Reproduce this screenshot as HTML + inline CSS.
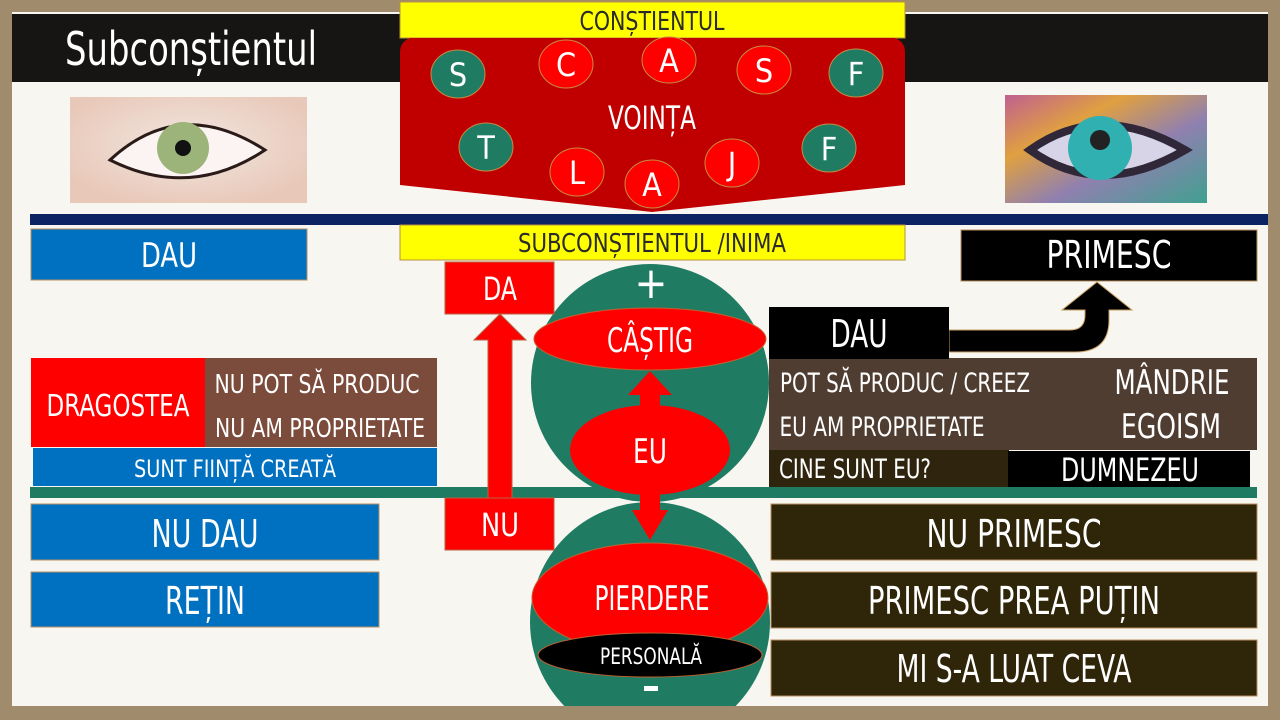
<!DOCTYPE html>
<html><head><meta charset="utf-8"><style>
html,body{margin:0;padding:0;background:#a08c6c;}
svg{display:block}
text{font-family:"Liberation Sans Narrow","DejaVu Sans Condensed","Liberation Sans",sans-serif;fill:#fff;text-anchor:middle;}
</style></head><body>
<svg width="1280" height="720" viewBox="0 0 1280 720" xmlns="http://www.w3.org/2000/svg">
<defs>
<radialGradient id="eye1" cx="0.5" cy="0.45" r="0.6"><stop offset="0" stop-color="#f2e6e0"/><stop offset="1" stop-color="#e8c8b8"/></radialGradient>
<linearGradient id="eye2" x1="0" y1="0" x2="1" y2="1"><stop offset="0" stop-color="#c06090"/><stop offset="0.3" stop-color="#e0a040"/><stop offset="0.6" stop-color="#9080b0"/><stop offset="1" stop-color="#40a090"/></linearGradient>
</defs>
<rect x="0" y="0" width="1280" height="720" fill="#a08c6c"/>
<rect x="12" y="12" width="1256" height="694" fill="#f8f6f1"/>
<rect x="12" y="14" width="1256" height="68" fill="#171513"/>
<text x="65" y="65" font-size="46" style="text-anchor:start" textLength="252" lengthAdjust="spacingAndGlyphs">Subconștientul</text>

<!-- eye images -->
<rect x="70" y="97" width="237" height="106" fill="url(#eye1)"/>
<path d="M110,160 Q180,95 265,150 Q190,200 110,160Z" fill="#fbf4f2" stroke="#2a1a18" stroke-width="3"/>
<circle cx="183" cy="148" r="26" fill="#9cb47a"/><circle cx="183" cy="148" r="8" fill="#111"/>
<rect x="1005" y="95" width="202" height="108" fill="url(#eye2)"/>
<path d="M1030,150 Q1100,100 1185,150 Q1100,200 1030,150Z" fill="#d8d4e8" stroke="#302838" stroke-width="8"/>
<circle cx="1100" cy="148" r="32" fill="#30b0b0"/><circle cx="1100" cy="140" r="10" fill="#222"/>

<rect x="30" y="214" width="1238" height="11" fill="#0b2263"/>

<!-- conștientul -->
<rect x="400" y="2" width="505" height="36" fill="#ffff00" stroke="#b89040" stroke-width="1"/>
<text x="652" y="30" font-size="26" fill="#222" style="fill:#2a2a2a" textLength="145" lengthAdjust="spacingAndGlyphs">CONȘTIENTUL</text>
<path d="M410,38 L895,38 Q905,42 905,52 L905,185 L652,212 L400,185 L400,52 Q400,42 410,38Z" fill="#c00000"/>
<g stroke="#c88a40" stroke-width="1">
<ellipse cx="458" cy="74" rx="27" ry="24" fill="#1f7c63"/>
<ellipse cx="566" cy="64" rx="27" ry="24" fill="#ff0000"/>
<ellipse cx="669" cy="60" rx="27" ry="23" fill="#ff0000"/>
<ellipse cx="764" cy="70" rx="27" ry="24" fill="#ff0000"/>
<ellipse cx="856" cy="73" rx="27" ry="24" fill="#1f7c63"/>
<ellipse cx="486" cy="147" rx="27" ry="24" fill="#1f7c63"/>
<ellipse cx="829" cy="148" rx="27" ry="24" fill="#1f7c63"/>
<ellipse cx="577" cy="172" rx="27" ry="24" fill="#ff0000"/>
<ellipse cx="652" cy="184" rx="27" ry="24" fill="#ff0000"/>
<ellipse cx="732" cy="163" rx="27" ry="24" fill="#ff0000"/>
</g>
<g font-size="32">
<text x="458" y="86">S</text><text x="566" y="76">C</text><text x="669" y="72">A</text><text x="764" y="82">S</text><text x="856" y="85">F</text>
<text x="486" y="159">T</text><text x="829" y="160">F</text><text x="577" y="184">L</text><text x="652" y="196">A</text><text x="732" y="175">J</text>
</g>
<text x="652" y="129" font-size="32" textLength="88" lengthAdjust="spacingAndGlyphs">VOINȚA</text>

<rect x="400" y="225" width="505" height="35" fill="#ffff00" stroke="#b89040" stroke-width="1"/>
<text x="652" y="252" font-size="26" style="fill:#2a2a2a" textLength="268" lengthAdjust="spacingAndGlyphs">SUBCONȘTIENTUL /INIMA</text>

<!-- left boxes -->
<g stroke="#b89060" stroke-width="1">
<rect x="31" y="229" width="276" height="51" fill="#0070c0"/>
<rect x="31" y="358" width="174" height="89" fill="#ff0000" stroke="none"/>
<rect x="205" y="358" width="232" height="89" fill="#7b4b3b" stroke="none"/>
<rect x="33" y="448" width="404" height="38" fill="#0070c0" stroke="none"/>
<rect x="31" y="504" width="348" height="56" fill="#0070c0"/>
<rect x="31" y="572" width="348" height="55" fill="#0070c0"/>
</g>
<text x="169" y="267" font-size="34" textLength="56" lengthAdjust="spacingAndGlyphs">DAU</text>
<text x="118" y="416" font-size="30" textLength="143" lengthAdjust="spacingAndGlyphs">DRAGOSTEA</text>
<text x="317" y="393" font-size="26" textLength="205" lengthAdjust="spacingAndGlyphs">NU POT SĂ PRODUC</text>
<text x="320" y="437" font-size="26" textLength="210" lengthAdjust="spacingAndGlyphs">NU AM PROPRIETATE</text>
<text x="235" y="477" font-size="24" textLength="202" lengthAdjust="spacingAndGlyphs">SUNT FIINȚĂ CREATĂ</text>
<text x="205" y="547" font-size="38" textLength="107" lengthAdjust="spacingAndGlyphs">NU DAU</text>
<text x="205" y="614" font-size="38" textLength="80" lengthAdjust="spacingAndGlyphs">REȚIN</text>

<!-- right boxes -->
<rect x="961" y="230" width="296" height="51" fill="#000" stroke="#b89060"/>
<text x="1109" y="268" font-size="38" textLength="125" lengthAdjust="spacingAndGlyphs">PRIMESC</text>
<path d="M949,330 L1070,330 Q1085,330 1085,315 L1085,310 L1062,310 L1097,282 L1132,310 L1109,310 L1109,320 Q1109,352 1075,352 L949,352Z" fill="#000" stroke="#c8a060" stroke-width="1"/>
<rect x="769" y="358" width="488" height="92" fill="#4f3d31"/>
<rect x="769" y="450" width="240" height="37" fill="#2f250f"/>
<rect x="1008" y="451" width="242" height="36" fill="#000"/>
<rect x="769" y="307" width="180" height="52" fill="#000"/>
<text x="859" y="347" font-size="38" textLength="57" lengthAdjust="spacingAndGlyphs">DAU</text>
<text x="905" y="392" font-size="27" textLength="250" lengthAdjust="spacingAndGlyphs">POT SĂ PRODUC / CREEZ</text>
<text x="882" y="436" font-size="27" textLength="205" lengthAdjust="spacingAndGlyphs">EU AM PROPRIETATE</text>
<text x="1172" y="394" font-size="34" textLength="115" lengthAdjust="spacingAndGlyphs">MÂNDRIE</text>
<text x="1171" y="438" font-size="34" textLength="100" lengthAdjust="spacingAndGlyphs">EGOISM</text>
<text x="855" y="478" font-size="27" textLength="152" lengthAdjust="spacingAndGlyphs">CINE SUNT EU?</text>
<text x="1130" y="481" font-size="32" textLength="138" lengthAdjust="spacingAndGlyphs">DUMNEZEU</text>
<g stroke="#b89060" stroke-width="1" fill="#2f2508">
<rect x="771" y="504" width="486" height="56"/>
<rect x="771" y="572" width="486" height="56"/>
<rect x="771" y="640" width="486" height="56"/>
</g>
<text x="1014" y="547" font-size="38" textLength="175" lengthAdjust="spacingAndGlyphs">NU PRIMESC</text>
<text x="1014" y="614" font-size="38" textLength="292" lengthAdjust="spacingAndGlyphs">PRIMESC PREA PUȚIN</text>
<text x="1014" y="682" font-size="38" textLength="235" lengthAdjust="spacingAndGlyphs">MI S-A LUAT CEVA</text>

<!-- center -->
<circle cx="650" cy="383" r="119" fill="#1f7c63"/>
<rect x="30" y="487" width="1227" height="11" fill="#1f7c63"/>
<circle cx="650" cy="622" r="120" fill="#1f7c63"/>
<rect x="0" y="706" width="1280" height="14" fill="#a08c6c"/>
<rect x="1268" y="0" width="12" height="720" fill="#a08c6c"/>

<rect x="445" y="262" width="109" height="52" fill="#ff0000" stroke="#b86040"/>
<text x="500" y="300" font-size="32" textLength="34" lengthAdjust="spacingAndGlyphs">DA</text>
<rect x="445" y="498" width="109" height="52" fill="#ff0000" stroke="#b86040"/>
<text x="500" y="536" font-size="32" textLength="38" lengthAdjust="spacingAndGlyphs">NU</text>
<path d="M488,498 L488,340 L474,340 L500,314 L526,340 L512,340 L512,498Z" fill="#ff0000" stroke="#b86040" stroke-width="1"/>

<ellipse cx="650" cy="339" rx="116" ry="31" fill="#ff0000" stroke="#c06030"/>
<text x="650" y="352" font-size="34" textLength="86" lengthAdjust="spacingAndGlyphs">CÂȘTIG</text>
<path d="M640,420 L640,395 L628,395 L650,371 L672,395 L660,395 L660,420Z" fill="#ff0000"/>
<path d="M640,480 L640,510 L632,510 L650,540 L668,510 L660,510 L660,480Z" fill="#ff0000"/>
<ellipse cx="650" cy="450" rx="80" ry="45" fill="#ff0000"/>
<text x="650" y="463" font-size="34" textLength="34" lengthAdjust="spacingAndGlyphs">EU</text>
<text x="651" y="298" font-size="44">+</text>
<ellipse cx="650" cy="598" rx="118" ry="55" fill="#ff0000" stroke="#c06030"/>
<text x="652" y="610" font-size="34" textLength="115" lengthAdjust="spacingAndGlyphs">PIERDERE</text>
<ellipse cx="650" cy="655" rx="112" ry="22" fill="#000" stroke="#c06030"/>
<text x="651" y="664" font-size="22" textLength="102" lengthAdjust="spacingAndGlyphs">PERSONALĂ</text>
<rect x="644" y="686" width="14" height="5" fill="#fff"/>
</svg>
</body></html>
